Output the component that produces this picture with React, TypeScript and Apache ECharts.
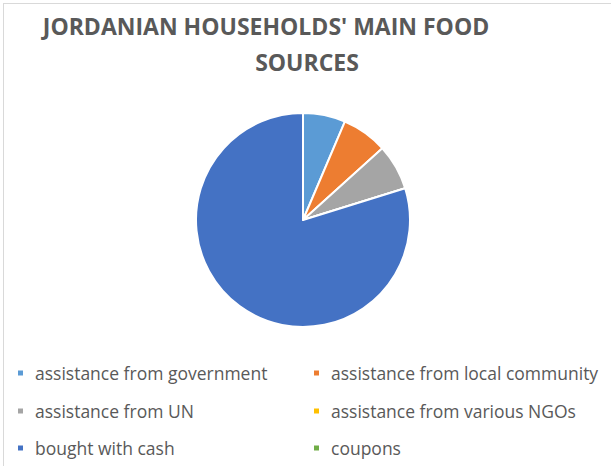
import React, { useEffect, useRef } from "react";
import * as echarts from "echarts";

const categories = [
  "assistance from government",
  "assistance from local community",
  "assistance from UN",
  "assistance from various NGOs",
  "bought with cash",
  "coupons",
];
const values = [6.4, 6.9, 6.9, 0, 79.8, 0];
const colors = ["#5B9BD5", "#ED7D31", "#A5A5A5", "#FFC000", "#4472C4", "#70AD47"];
const titleLines = ["JORDANIAN HOUSEHOLDS' MAIN FOOD", "SOURCES"];

export default function App() {
  const ref = useRef<HTMLDivElement>(null);
  useEffect(() => {
    if (!ref.current) return;
    const chart = echarts.init(ref.current, null, { renderer: "svg" });
    const legendText = {
      color: "#595959",
      fontFamily: "Open Sans",
      fontSize: 17.5,
      lineHeight: 20,
      padding: [0, 0, 0, 6],
    };
    const colX = [16, 312];
    const rowY = [373, 411, 448];
    const legends = categories.map((name, i) => ({
      orient: "horizontal",
      left: colX[i % 2],
      top: rowY[Math.floor(i / 2)] - 10,
      padding: 0,
      icon: "rect",
      itemWidth: 7,
      itemHeight: 7,
      selectedMode: false,
      data: [name],
      textStyle: legendText,
    }));
    chart.setOption({
      animation: false,
      backgroundColor: "#ffffff",
      color: colors,
      title: [
        {
          text: titleLines[0],
          left: 261,
          top: 9,
          textAlign: "center",
          textStyle: { color: "#595959", fontFamily: "Open Sans", fontWeight: "bold", fontSize: 23 },
        },
        {
          text: titleLines[1],
          left: 302,
          top: 45,
          textAlign: "center",
          textStyle: { color: "#595959", fontFamily: "Open Sans", fontWeight: "bold", fontSize: 23 },
        },
      ],
      legend: legends,
      graphic: [
        { type: "line", shape: { x1: 3, y1: 3.5, x2: 611, y2: 3.5 }, style: { stroke: "#d9d9d9", lineWidth: 1 } },
        { type: "line", shape: { x1: 3.5, y1: 3, x2: 3.5, y2: 466 }, style: { stroke: "#d9d9d9", lineWidth: 1 } },
      ],
      series: [
        {
          type: "pie",
          center: [303, 220],
          radius: [0, 107],
          startAngle: 90,
          clockwise: true,
          label: { show: false },
          labelLine: { show: false },
          emphasis: { disabled: true },
          itemStyle: { borderColor: "#ffffff", borderWidth: 2 },
          data: categories.map((name, i) => ({ name, value: values[i] })),
        },
      ],
    });
    return () => chart.dispose();
  }, []);
  return (
    <div
      ref={ref}
      style={{ position: "absolute", left: 0, top: 0, width: 611, height: 466 }}
    />
  );
}
